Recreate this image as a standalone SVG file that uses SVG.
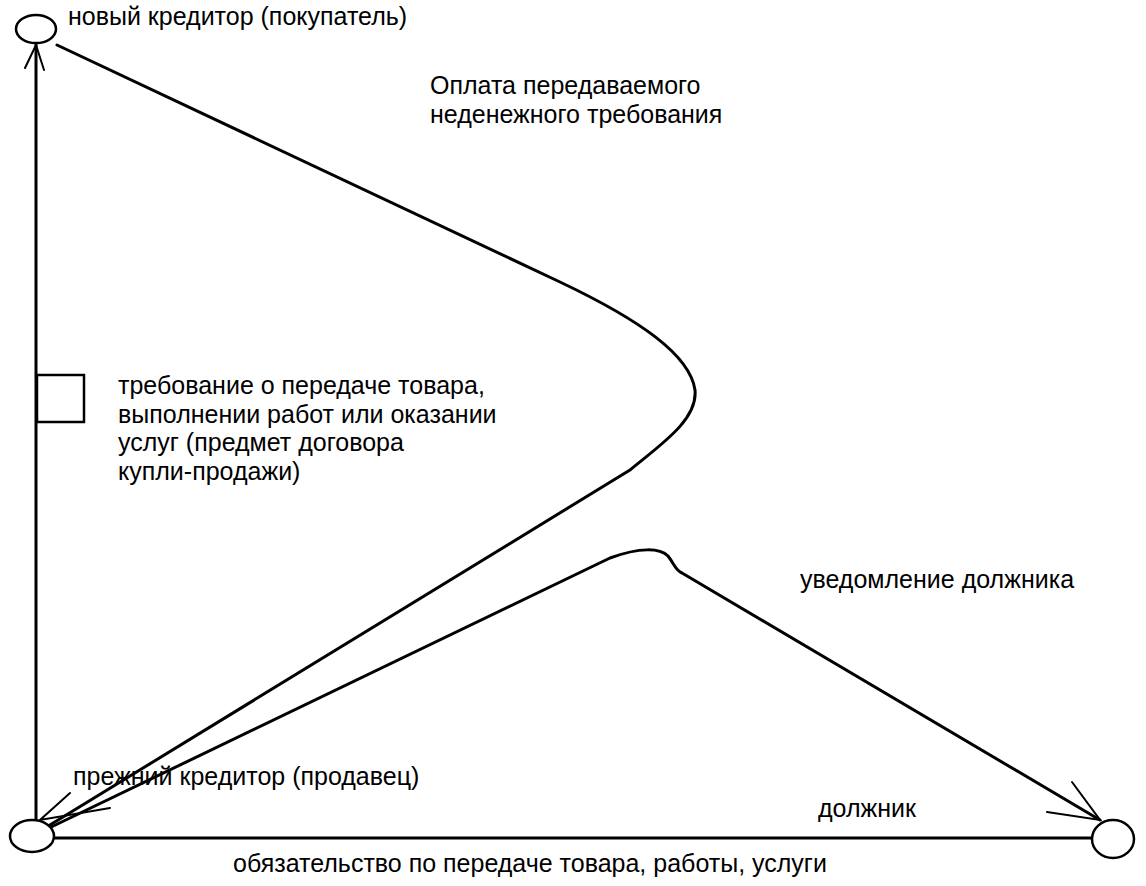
<svg xmlns="http://www.w3.org/2000/svg" width="1146" height="886" viewBox="0 0 1146 886">
<style>
.t{font-family:"Liberation Sans",Arial,sans-serif;font-size:25px;fill:#000}
.n{fill:#fff;stroke:#000;stroke-width:2.5}
.c{fill:none;stroke:#000;stroke-width:3;stroke-linecap:round;stroke-linejoin:round}
.h{fill:none;stroke:#000;stroke-width:2;stroke-linecap:round}
</style>
<rect width="1146" height="886" fill="#fff"/>
<g id="connectors">
<line class="c" x1="36" y1="44" x2="36" y2="820"/>
<path class="h" d="M25 68 L36 45 L44 70"/>
<rect x="37" y="375" width="47" height="47" fill="#fff" stroke="#000" stroke-width="2.5"/>
<line class="c" x1="55" y1="838" x2="1092" y2="838"/>
<path class="c" d="M57 45 L560 282 C640 320 690 355 695 390 C698 420 660 445 630 470 L45 828"/>
<path class="h" d="M70 793 L40 820 L110 808"/>
<path class="c" d="M45 830 L610 558 C640 547 660 548 668 556 C675 565 675 570 682 573 L1100 820"/>
<path class="h" d="M1047 812 L1100 820 L1072 782"/>
</g>
<g id="node-new"><ellipse class="n" cx="36" cy="29" rx="20" ry="14"/><text class="t" x="68" y="25">новый кредитор (покупатель)</text></g>
<g id="node-old"><ellipse class="n" cx="32" cy="836" rx="22" ry="16"/><text class="t" x="73" y="785">прежний кредитор (продавец)</text></g>
<g id="node-debtor"><ellipse class="n" cx="1113" cy="839" rx="21" ry="19"/><text class="t" x="818" y="817">должник</text></g>
<g id="labels">
<text class="t" x="430" y="94">Оплата передаваемого</text>
<text class="t" x="430" y="123">неденежного требования</text>
<text class="t" x="118" y="394">требование о передаче товара,</text>
<text class="t" x="118" y="423">выполнении работ или оказании</text>
<text class="t" x="118" y="451">услуг (предмет договора</text>
<text class="t" x="118" y="480">купли-продажи)</text>
<text class="t" x="800" y="588">уведомление должника</text>
<text class="t" x="233" y="872">обязательство по передаче товара, работы, услуги</text>
</g>
</svg>
